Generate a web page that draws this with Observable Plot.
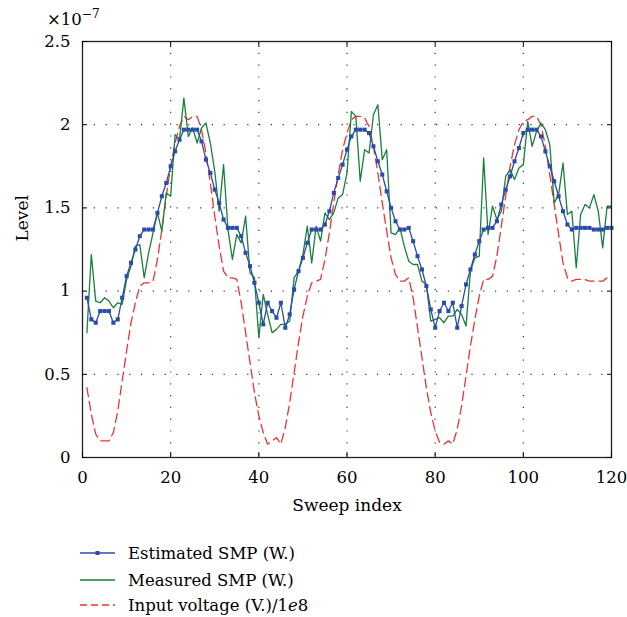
<!DOCTYPE html>
<html>
<head>
<meta charset="utf-8">
<script src="https://cdn.jsdelivr.net/npm/d3@7"></script>
<script src="https://cdn.jsdelivr.net/npm/@observablehq/plot@0.6"></script>
<style>
  body { margin: 0; background: #fff; font-family: "DejaVu Serif", serif; }
  #wrap { position: relative; width: 627px; height: 617px; overflow: hidden; }
  #exp { position: absolute; left: 47px; top: 12px; font-size: 16.5px; line-height: 1; white-space: nowrap; }
  #exp sup { font-size: 12px; vertical-align: 7px; line-height: 0; }
  .row { position: absolute; left: 80px; height: 20px; display: flex; align-items: center; font-size: 16.5px; white-space: nowrap; }
  .row svg { margin-right: 13px; }
</style>
</head>
<body>
<div id="wrap">
  <div id="chart"></div>
  <div id="exp">×10<sup>−7</sup></div>
  <div id="legend"></div>
</div>
<script>
const sweep = d3.range(1, 121);

const estimated = [
  0.96, 0.83, 0.81, 0.88, 0.88, 0.88, 0.81, 0.83, 0.96, 1.09,
  1.17, 1.25, 1.33, 1.37, 1.37, 1.37, 1.47, 1.57, 1.65, 1.75,
  1.84, 1.91, 1.97, 1.97, 1.97, 1.97, 1.90, 1.79, 1.71, 1.61,
  1.53, 1.43, 1.38, 1.38, 1.38, 1.33, 1.23, 1.15, 1.05, 0.93,
  0.80, 0.93, 0.88, 0.84, 0.93, 0.78, 0.86, 1.01, 1.12, 1.20,
  1.29, 1.37, 1.37, 1.37, 1.40, 1.48, 1.59, 1.68, 1.76, 1.85,
  1.93, 1.97, 1.97, 1.97, 1.95, 1.87, 1.78, 1.70, 1.60, 1.50,
  1.42, 1.37, 1.37, 1.38, 1.30, 1.21, 1.13, 1.03, 0.89, 0.78,
  0.88, 0.93, 0.88, 0.93, 0.78, 0.91, 1.04, 1.13, 1.22, 1.30,
  1.37, 1.38, 1.38, 1.42, 1.52, 1.61, 1.69, 1.78, 1.86, 1.95,
  1.97, 1.97, 1.97, 1.93, 1.84, 1.75, 1.66, 1.57, 1.48, 1.40,
  1.37, 1.38, 1.38, 1.38, 1.38, 1.37, 1.37, 1.37, 1.38, 1.38
];

const measured = [
  0.75, 1.22, 0.94, 0.93, 0.96, 0.94, 0.90, 0.93, 0.92, 1.07,
  1.15, 1.27, 1.28, 1.08, 1.23, 1.35, 1.47, 1.36, 1.59, 1.57,
  1.94, 1.91, 2.16, 1.93, 1.98, 1.89, 1.98, 2.01, 1.89, 1.72,
  1.48, 1.76, 1.37, 1.19, 1.34, 1.29, 1.45, 1.11, 1.08, 0.72,
  0.98, 0.86, 0.75, 0.77, 0.80, 0.80, 0.82, 1.08, 1.12, 1.22,
  1.39, 1.17, 1.39, 1.30, 1.47, 1.43, 1.47, 1.56, 1.58, 1.71,
  2.08, 2.05, 1.66, 1.85, 1.83, 2.06, 2.12, 1.79, 1.85, 1.35,
  1.34, 1.38, 1.27, 1.18, 1.16, 1.16, 1.06, 1.04, 0.82, 0.83,
  0.84, 0.81, 0.85, 0.85, 0.89, 0.86, 0.79, 1.12, 1.20, 1.21,
  1.80, 1.34, 1.51, 1.43, 1.48, 1.69, 1.73, 1.67, 1.74, 1.76,
  2.02, 1.87, 1.96, 2.01, 1.97, 1.88, 1.53, 1.58, 1.77, 1.46,
  1.48, 1.14, 1.46, 1.52, 1.50, 1.58, 1.48, 1.26, 1.51, 1.51
];

const inputVoltage = [
  0.42, 0.26, 0.14, 0.10, 0.10, 0.10, 0.15, 0.28, 0.46, 0.64,
  0.81, 0.93, 1.03, 1.05, 1.05, 1.06, 1.19, 1.37, 1.57, 1.75,
  1.89, 1.99, 2.05, 2.03, 2.05, 2.05, 1.97, 1.83, 1.65, 1.45,
  1.27, 1.12, 1.08, 1.08, 1.07, 0.93, 0.75, 0.57, 0.39, 0.25,
  0.15, 0.08, 0.10, 0.12, 0.08, 0.18, 0.33, 0.51, 0.69, 0.85,
  0.97, 1.05, 1.06, 1.07, 1.19, 1.35, 1.53, 1.70, 1.85, 1.95,
  2.03, 2.05, 2.05, 2.04, 1.99, 1.87, 1.71, 1.53, 1.36, 1.20,
  1.10, 1.06, 1.06, 1.08, 0.96, 0.78, 0.60, 0.42, 0.27, 0.16,
  0.09, 0.08, 0.10, 0.08, 0.17, 0.31, 0.49, 0.67, 0.83, 0.97,
  1.07, 1.07, 1.09, 1.21, 1.39, 1.57, 1.75, 1.88, 1.97, 2.02,
  2.03, 2.05, 2.05, 2.00, 1.87, 1.70, 1.52, 1.34, 1.17, 1.08,
  1.06, 1.07, 1.07, 1.07, 1.06, 1.06, 1.06, 1.06, 1.08, 1.08
];

const xTicks = [0, 20, 40, 60, 80, 100, 120];
const yTicks = [0, 0.5, 1, 1.5, 2, 2.5];
const yTickLabels = ["0", "0.5", "1", "1.5", "2", "2.5"];
const xGrid = [20, 40, 60, 80, 100];
const yGrid = [0.5, 1, 1.5, 2];
const seriesNames = ["Estimated SMP (W.)", "Measured SMP (W.)", "Input voltage (V.)/1"];

const BLUE = "#2c4da6", GREEN = "#17803a", RED = "#f03232";

const est = sweep.map((s, i) => ({s, v: estimated[i]}));
const meas = sweep.map((s, i) => ({s, v: measured[i]}));
const inp = sweep.map((s, i) => ({s, v: inputVoltage[i]}));

const gridStyle = {stroke: "#000", strokeOpacity: 0.8, strokeWidth: 1.2, strokeDasharray: "1.2,10.6"};

const chart = Plot.plot({
  width: 627,
  height: 530,
  marginLeft: 82,
  marginRight: 16,
  marginTop: 41,
  marginBottom: 73,
  x: {domain: [0, 120]},
  y: {domain: [0, 2.5]},
  style: {fontFamily: "DejaVu Serif, serif", fontSize: "16.5px", color: "#000", background: "#fff"},
  marks: [
    Plot.gridX(xGrid, gridStyle),
    Plot.gridY(yGrid, gridStyle),
    Plot.line(inp, {x: "s", y: "v", stroke: RED, strokeWidth: 1.3, strokeDasharray: "9,5"}),
    Plot.line(meas, {x: "s", y: "v", stroke: GREEN, strokeWidth: 1.3}),
    Plot.line(est, {x: "s", y: "v", stroke: BLUE, strokeWidth: 1.3}),
    Plot.dot(est, {x: "s", y: "v", symbol: "square", r: 2.3, fill: BLUE, stroke: null}),
    Plot.frame({stroke: "#222", strokeWidth: 1.3}),
    Plot.axisX(xTicks, {tickSize: -5, tickPadding: 19, label: null, fontSize: 16.5}),
    Plot.axisX(xTicks, {anchor: "top", tickSize: -5, tickFormat: () => "", label: null}),
    Plot.axisY(yTicks, {tickSize: -5, tickPadding: 17, tickFormat: d => yTickLabels[yTicks.indexOf(d)], label: null, fontSize: 16.5}),
    Plot.axisY(yTicks, {anchor: "right", tickSize: -5, tickFormat: () => "", label: null}),
    Plot.text(["Sweep index"], {text: d => d, frameAnchor: "bottom", dy: 53, fontSize: 17}),
    Plot.text(["Level"], {text: d => d, frameAnchor: "left", rotate: -90, dx: -60, dy: -8, fontSize: 17})
  ]
});
document.getElementById("chart").appendChild(chart);

// legend
const legend = document.getElementById("legend");
const rowsY = [553, 580, 605];
const styles = [
  {stroke: BLUE, dash: null, marker: true},
  {stroke: GREEN, dash: null, marker: false},
  {stroke: RED, dash: "7,4", marker: false}
];
seriesNames.forEach((name, i) => {
  const row = document.createElement("div");
  row.className = "row";
  row.style.top = (rowsY[i] - 10) + "px";
  const st = styles[i];
  let svg = `<svg width="35" height="10"><line x1="0" x2="35" y1="5" y2="5" stroke="${st.stroke}" stroke-width="1.4"${st.dash ? ` stroke-dasharray="${st.dash}"` : ""}/>`;
  if (st.marker) svg += `<rect x="15.5" y="3" width="4" height="4" fill="${st.stroke}"/>`;
  svg += `</svg>`;
  const label = i === 2 ? `${name}<i>e</i>8` : name;
  row.innerHTML = svg + `<span>${label}</span>`;
  legend.appendChild(row);
});
</script>
</body>
</html>
